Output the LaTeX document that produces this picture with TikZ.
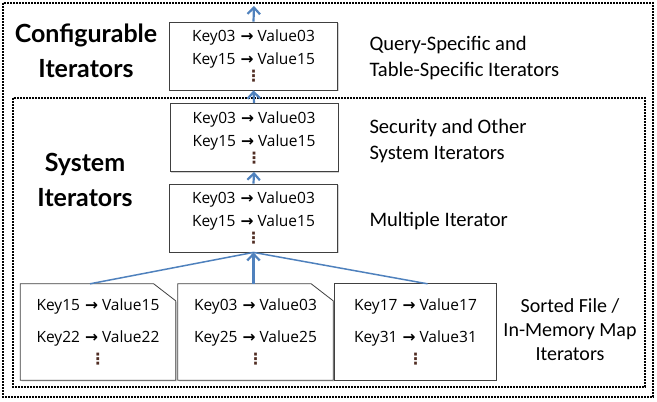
\documentclass[tikz,border=0pt]{standalone}
\usepackage{fontspec}
\setmainfont{Lato}
\newfontfamily\boxfont{Open Sans}
\newfontfamily\labelfont{Carlito}
\newfontfamily\arrfont{DejaVu Sans}
\usetikzlibrary{arrows.meta,shadows}
\definecolor{connblue}{RGB}{79,129,189}
\definecolor{dotc}{RGB}{80,45,35}
\newcommand{\ar}{\hspace{5pt}{\arrfont\bfseries →}\hspace{4pt}}
\newcommand{\kvdots}{{\arrfont\bfseries\color{dotc}⋮}}
\begin{document}
\begin{tikzpicture}[x=1pt,y=-1pt,
  frame/.style={line width=1.6pt, dash pattern=on 1.6pt off 1.4pt},
  kvbox/.style={draw=black!75, line width=0.8pt, fill=white, minimum width=168pt, minimum height=68pt, inner sep=0pt,
     font=\boxfont\fontsize{15.5}{23}\selectfont, align=center,
     drop shadow={shadow xshift=1.2pt, shadow yshift=-1.2pt, opacity=0.35}},
  leafbox/.style={minimum width=155pt, minimum height=96pt, inner sep=0pt},
  leafshape/.style={draw=black!75, line width=0.8pt, fill=white,
     drop shadow={shadow xshift=1.2pt, shadow yshift=-1.2pt, opacity=0.35}},
  leaftext/.style={font=\boxfont\fontsize{15.5}{32}\selectfont, align=center},
  title/.style={font=\fontsize{25}{35}\selectfont\bfseries, align=center},
  lab/.style={font=\labelfont\fontsize{20.6}{26}\selectfont, align=left, anchor=west},
  upline/.style={connblue, line width=2.2pt, -{Straight Barb[length=6.5pt,width=12.5pt]}},
  feed/.style={connblue, line width=1.5pt}
]
\useasboundingbox (0,0) rectangle (657,402);
% frames
\draw[frame] (3,3) rectangle (653,397);
\draw[frame] (13,98) rectangle (645,387);
% titles
\node[title] (tc) at (86,51) {Configurable\\Iterators};
\node[title] (ts) at (85,180) {System\\Iterators};
% boxes
\node[kvbox] (c1) at (253.5,56) {Key03\ar Value03\\Key15\ar Value15\\[-6pt]\kvdots};
\node[kvbox] (s1) at (254,137.5) {Key03\ar Value03\\Key15\ar Value15\\[-6pt]\kvdots};
\node[kvbox] (m1) at (253.5,218) {Key03\ar Value03\\Key15\ar Value15\\[-6pt]\kvdots};
% leaf boxes
\node[leafbox] (b1) at (98,332) {};
\node[leafbox] (b2) at (255.5,332) {};
\node[leafbox, minimum width=161pt] (b3) at (415.5,332) {};
\path[leafshape] (b1.north west) -- ([xshift=-22pt]b1.north east) -- ([yshift=-17pt]b1.north east) -- (b1.south east) -- (b1.south west) -- cycle;
\path[leafshape] (b2.north west) -- ([xshift=-22pt]b2.north east) -- ([yshift=-17pt]b2.north east) -- (b2.south east) -- (b2.south west) -- cycle;
\path[leafshape] (b3.north west) rectangle (b3.south east);
\node[leaftext] (t1) at (b1) {Key15\ar Value15\\Key22\ar Value22\\[-10pt]\kvdots};
\node[leaftext] (t2) at (b2) {Key03\ar Value03\\Key25\ar Value25\\[-10pt]\kvdots};
\node[leaftext] (t3) at (b3) {Key17\ar Value17\\Key31\ar Value31\\[-10pt]\kvdots};
% labels
\node[lab] (l1) at (366,58) {Query-Specific and\\Table-Specific Iterators};
\node[lab] (l2) at (366,141) {Security and Other\\System Iterators};
\node[lab] (l3) at (366,221) {Multiple Iterator};
\node[font=\labelfont\fontsize{20}{24}\selectfont, align=center] (l4) at (570,330) {Sorted File /\\In-Memory Map\\Iterators};
% connectors
\coordinate (top) at (254,6);
\draw[feed] ([xshift=-8pt]b1.north) -- (m1.south);
\draw[feed] ([xshift=12pt]b3.north) -- (m1.south);
\draw[upline] (b2.north -| m1.south) -- (m1.south);
\draw[upline] (m1.north) -- (s1.south);
\draw[upline] (s1.north) -- (c1.south);
\draw[upline] (c1.north) -- (top);
\end{tikzpicture}
\end{document}
